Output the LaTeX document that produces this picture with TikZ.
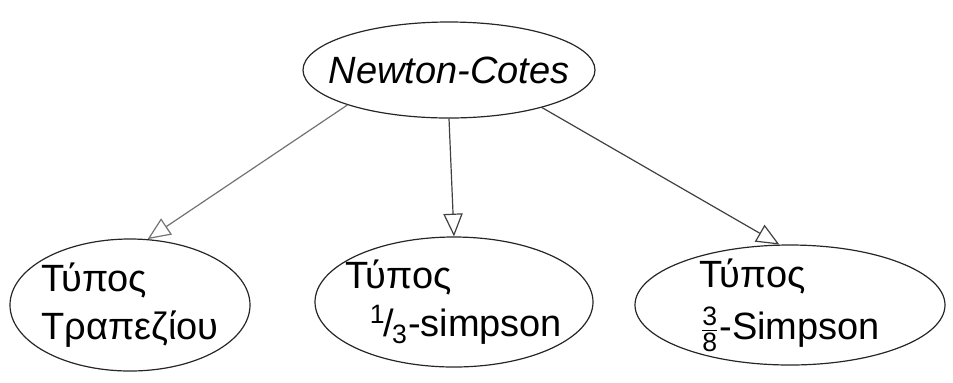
\documentclass[tikz,border=0pt]{standalone}
\usepackage{amsmath}
\usepackage{fontspec}
\setmainfont{Liberation Sans}
\usetikzlibrary{arrows.meta,shapes.geometric}
\tikzset{
  method/.style={draw=black!85, ellipse, semithick, align=left, inner sep=-30pt,
                 font=\fontsize{19}{24}\selectfont},
  link/.style={-{Triangle[open, length=4mm, width=3.4mm]}, semithick, draw=black!75},
}
\begin{document}
\begin{tikzpicture}[x=0.5pt, y=-0.5pt]
  \useasboundingbox (0,0) rectangle (953,382);
  % root
  \node[method, minimum width=146pt, minimum height=48pt, align=center] (nc) at (449,70)
    {\itshape Newton-Cotes};
  % methods
  \node[method, minimum width=120pt, minimum height=66pt] (trap) at (130,305)
    {Τύπος\\Τραπεζίου};
  \node[method, minimum width=139pt, minimum height=65pt] (simpA) at (454,302)
    {Τύπος\\\hspace{12pt}\textsuperscript{1}\kern-1pt/\kern-1pt\textsubscript{3}-simpson};
  \node[method, minimum width=155pt, minimum height=60pt] (simpB) at (790,305)
    {Τύπος\\[2pt]$\tfrac{\text{3}}{\text{8}}$-Simpson};
  \draw[link, draw=black!55] (nc.199) -- (trap.75);
  \draw[link] (nc.south) -- (simpA.north);
  \draw[link] (nc.338) -- (simpB.100);
\end{tikzpicture}
\end{document}
